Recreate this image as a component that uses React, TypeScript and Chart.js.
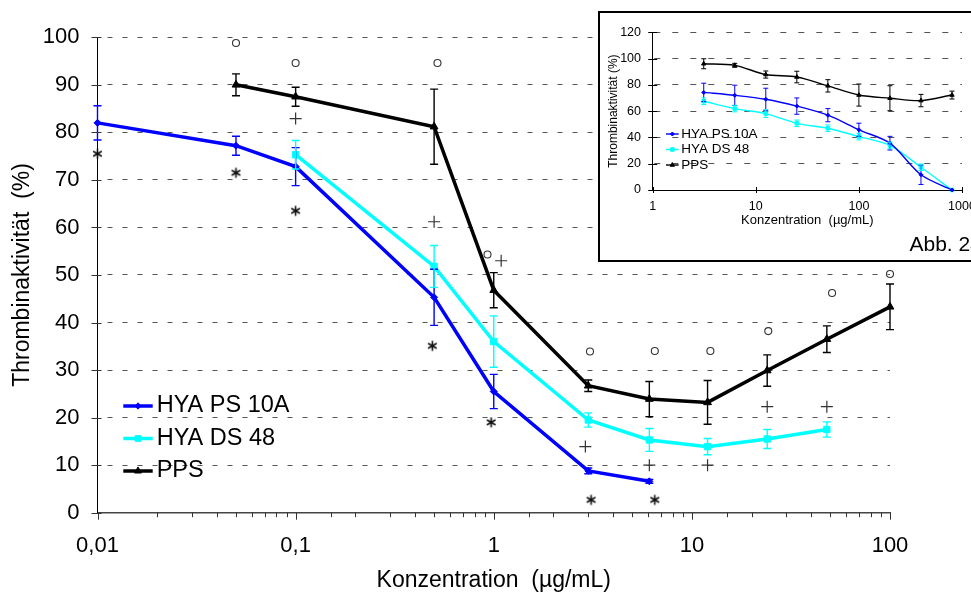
import React, { useEffect, useRef } from 'react';
import { Chart, registerables } from 'chart.js';
import { drawPoint } from 'chart.js/helpers';

Chart.register(...registerables);

const FONT = '"Liberation Sans", Arial, Helvetica, sans-serif';

// ---------- Main chart data ----------
const psConc = [0.01, 0.05, 0.1, 0.5, 1, 3, 6.1];
const psValues = [82, 77.2, 72.8, 45.3, 25.5, 8.8, 6.6];
const psErrors = [3.6, 2, 4, 5.9, 3.6, 0.6, 0.4];

const dsConc = [0.1, 0.5, 1, 3, 6.1, 12, 24, 48];
const dsValues = [75.3, 51.8, 36, 19.5, 15.3, 13.9, 15.5, 17.5];
const dsErrors = [3, 4.4, 5.4, 1.5, 2.4, 1.7, 2, 1.6];

const ppsConc = [0.05, 0.1, 0.5, 1, 3, 6.1, 12, 24, 48, 100];
const ppsValues = [90, 87.5, 81.2, 46.8, 26.7, 23.9, 23.2, 29.9, 36.5, 43.3];
const ppsErrors = [2.3, 2, 7.9, 3.7, 1.2, 3.7, 4.6, 3.3, 2.8, 4.8];

// significance symbols
const starConc = [0.01, 0.05, 0.1, 0.49, 0.97, 3.1, 6.5];
const starValues = [75.5, 71.5, 63.5, 35.1, 19, 2.7, 2.7];
const plusConc = [0.1, 0.5, 1.09, 2.9, 6.1, 12, 24, 48];
const plusValues = [82.9, 61.2, 53, 13.9, 10, 10, 22.3, 22.3];
const circleConc = [0.05, 0.1, 0.52, 0.93, 3.06, 6.5, 12.4, 24.3, 51, 100];
const circleValues = [98.8, 94.6, 94.6, 54.3, 33.9, 34, 34, 38.2, 46.2, 50.2];

const mainXDecades = [0.01, 0.1, 1, 10, 100];
const mainXTickLabels = ['0,01', '0,1', '1', '10', '100'];
const mainXTitle = 'Konzentration  (µg/mL)';
const mainYTitle = 'Thrombinaktivität  (%)';

// ---------- Inset chart data ----------
const insetConc = [3.125, 6.25, 12.5, 25, 50, 100, 200, 400, 800];
const insetPsValues = [74.2, 72, 69, 63.8, 56.9, 45.8, 35.6, 11.6, 0];
const insetPsErrors = [7, 7.7, 8.4, 6.2, 5, 5, 5.2, 7.4, 0];
const insetDsValues = [67.5, 61.9, 58.1, 50.7, 47, 40.6, 33.9, 17.3, 0];
const insetDsErrors = [2.5, 2.5, 3, 2.5, 2.5, 2.5, 2.5, 2.5, 0];
const insetPpsValues = [96, 94.8, 87.8, 85.9, 79.2, 72.2, 69.8, 68, 72.2];
const insetPpsErrors = [3.8, 1.5, 2.7, 4.4, 4.7, 8.4, 9.5, 4.7, 3];

const insetXDecades = [1, 10, 100, 1000];
const insetXTickLabels = ['1', '10', '100', '1000'];
const insetXTitle = 'Konzentration  (µg/mL)';
const insetYTitle = 'Thrombinaktivität (%)';
const insetCaption = 'Abb. 24';

const seriesLabels = ['HYA PS 10A', 'HYA DS 48', 'PPS'];

// ---------- helpers ----------
const isDecade = (v: number) => {
  const l = Math.log10(v);
  return Math.abs(l - Math.round(l)) < 1e-6;
};

const labelFor = (decades: number[], labels: string[]) => (value: any) => {
  const v = Number(value);
  const i = decades.findIndex((d) => Math.abs(v / d - 1) < 1e-6);
  return i >= 0 ? labels[i] : '';
};

const pts = (xs: number[], ys: number[]) => xs.map((x, i) => ({ x, y: ys[i] }));

function makeAsterisk(): HTMLCanvasElement {
  const c = document.createElement('canvas');
  c.width = 13;
  c.height = 13;
  const g = c.getContext('2d')!;
  g.strokeStyle = '#111';
  g.lineWidth = 1.6;
  const r = 5;
  const cx = 6.5;
  const cy = 6.5;
  g.beginPath();
  [90, 30, 150].forEach((a) => {
    const rad = (a * Math.PI) / 180;
    g.moveTo(cx - r * Math.cos(rad), cy - r * Math.sin(rad));
    g.lineTo(cx + r * Math.cos(rad), cy + r * Math.sin(rad));
  });
  g.stroke();
  return c;
}

function makeErrorBarPlugin(width: number, cap: number) {
  return {
    id: 'errorBars',
    afterDatasetsDraw(chart: any) {
      const ctx = chart.ctx;
      const yScale = chart.scales.y;
      chart.data.datasets.forEach((ds: any, i: number) => {
        if (!ds.errors) return;
        const meta = chart.getDatasetMeta(i);
        ctx.save();
        ctx.strokeStyle = ds.borderColor;
        ctx.lineWidth = width;
        meta.data.forEach((pt: any, j: number) => {
          const e = ds.errors[j];
          if (!e) return;
          const v = ds.data[j].y;
          const yt = yScale.getPixelForValue(v + e);
          const yb = yScale.getPixelForValue(v - e);
          const x = pt.x;
          ctx.beginPath();
          ctx.moveTo(x, yt);
          ctx.lineTo(x, yb);
          ctx.moveTo(x - cap, yt);
          ctx.lineTo(x + cap, yt);
          ctx.moveTo(x - cap, yb);
          ctx.lineTo(x + cap, yb);
          ctx.stroke();
        });
        ctx.restore();
      });
    },
  };
}

function makeTickPlugin(cfg: {
  color: string;
  width: number;
  xMajorOut: number;
  xMajorIn: number;
  xMinorOut: number;
  xMinorIn: number;
  yOut: number;
  yIn: number;
}) {
  return {
    id: 'tickMarks',
    afterDraw(chart: any) {
      const ctx = chart.ctx;
      const xs = chart.scales.x;
      const ys = chart.scales.y;
      const ca = chart.chartArea;
      ctx.save();
      ctx.strokeStyle = cfg.color;
      ctx.lineWidth = cfg.width;
      ctx.beginPath();
      xs.ticks.forEach((t: any) => {
        const major = isDecade(t.value);
        const out = major ? cfg.xMajorOut : cfg.xMinorOut;
        const inn = major ? cfg.xMajorIn : cfg.xMinorIn;
        if (!out && !inn) return;
        const px = Math.round(xs.getPixelForValue(t.value)) + 0.5;
        ctx.moveTo(px, ca.bottom - inn);
        ctx.lineTo(px, ca.bottom + out);
      });
      ys.ticks.forEach((t: any) => {
        const py = Math.round(ys.getPixelForValue(t.value)) + 0.5;
        ctx.moveTo(ca.left - cfg.yOut, py);
        ctx.lineTo(ca.left + cfg.yIn, py);
      });
      ctx.stroke();
      ctx.restore();
    },
  };
}

function makeLegendPlugin(cfg: {
  x: number;
  y0: number;
  dy: number;
  lineLen: number;
  gap: number;
  font: string;
  lineWidth: number;
  markerScale: number;
}) {
  return {
    id: 'innerLegend',
    afterDraw(chart: any) {
      const ctx = chart.ctx;
      ctx.save();
      for (let i = 0; i < 3; i++) {
        const ds = chart.data.datasets[i];
        const y = cfg.y0 + i * cfg.dy;
        ctx.strokeStyle = ds.borderColor;
        ctx.lineWidth = cfg.lineWidth;
        ctx.beginPath();
        ctx.moveTo(cfg.x, y);
        ctx.lineTo(cfg.x + cfg.lineLen, y);
        ctx.stroke();
        ctx.fillStyle = ds.backgroundColor;
        ctx.strokeStyle = ds.borderColor;
        ctx.lineWidth = 1;
        drawPoint(
          ctx,
          { pointStyle: ds.pointStyle, radius: ds.pointRadius * cfg.markerScale, rotation: 0, borderWidth: 1 } as any,
          cfg.x + cfg.lineLen / 2,
          y
        );
        ctx.fillStyle = '#000';
        ctx.font = cfg.font;
        ctx.textBaseline = 'middle';
        ctx.textAlign = 'left';
        ctx.fillText(ds.label, cfg.x + cfg.lineLen + cfg.gap, y);
      }
      ctx.restore();
    },
  };
}

function makeCaptionPlugin(text: string, x: number, y: number, font: string) {
  return {
    id: 'caption',
    afterDraw(chart: any) {
      const ctx = chart.ctx;
      ctx.save();
      ctx.font = font;
      ctx.fillStyle = '#000';
      ctx.textAlign = 'left';
      ctx.textBaseline = 'alphabetic';
      ctx.fillText(text, x, y);
      ctx.restore();
    },
  };
}

const gridColor = (c: any) => (c.tick && c.tick.value === 0 ? 'rgba(0,0,0,0)' : '#555');

function buildMainConfig(star: HTMLCanvasElement): any {
  return {
    type: 'line',
    data: {
      datasets: [
        {
          label: seriesLabels[0],
          data: pts(psConc, psValues),
          errors: psErrors,
          borderColor: '#0000FF',
          backgroundColor: '#0000FF',
          borderWidth: 3.5,
          pointStyle: 'rectRot',
          pointRadius: 3.5,
          pointBorderWidth: 1,
          clip: false,
        },
        {
          label: seriesLabels[1],
          data: pts(dsConc, dsValues),
          errors: dsErrors,
          borderColor: '#00FFFF',
          backgroundColor: '#00FFFF',
          borderWidth: 3.5,
          pointStyle: 'rect',
          pointRadius: 4.5,
          pointBorderWidth: 1,
          clip: false,
        },
        {
          label: seriesLabels[2],
          data: pts(ppsConc, ppsValues),
          errors: ppsErrors,
          borderColor: '#000000',
          backgroundColor: '#000000',
          borderWidth: 3.5,
          pointStyle: 'triangle',
          pointRadius: 4.5,
          pointBorderWidth: 1,
          clip: false,
        },
        {
          label: '*',
          data: pts(starConc, starValues),
          showLine: false,
          pointStyle: star,
          pointRadius: 5,
          borderColor: '#222',
          backgroundColor: '#222',
          clip: false,
        },
        {
          label: '+',
          data: pts(plusConc, plusValues),
          showLine: false,
          pointStyle: 'cross',
          pointRadius: 6,
          pointBorderWidth: 1.2,
          borderColor: '#333',
          backgroundColor: '#333',
          clip: false,
        },
        {
          label: 'o',
          data: pts(circleConc, circleValues),
          showLine: false,
          pointStyle: 'circle',
          pointRadius: 3.5,
          pointBorderWidth: 1.1,
          borderColor: '#333',
          backgroundColor: 'rgba(0,0,0,0)',
          clip: false,
        },
      ],
    },
    options: {
      responsive: false,
      animation: false,
      devicePixelRatio: 1,
      layout: { padding: { left: 0, top: 37.3, right: 81, bottom: 0 } },
      plugins: { legend: { display: false }, tooltip: { enabled: false } },
      elements: { line: { tension: 0 } },
      scales: {
        x: {
          type: 'logarithmic',
          min: 0.01,
          max: 100,
          afterFit: (s: any) => {
            s.height = 81.3;
          },
          grid: { display: false, drawTicks: false },
          border: { display: true, color: '#444', width: 1.5 },
          ticks: {
            autoSkip: false,
            maxRotation: 0,
            minRotation: 0,
            padding: 20,
            color: '#000',
            font: { family: FONT, size: 22 },
            callback: labelFor(mainXDecades, mainXTickLabels),
          },
          title: {
            display: true,
            text: mainXTitle,
            color: '#000',
            font: { family: FONT, size: 23 },
            padding: { top: 0, bottom: 0 },
          },
        },
        y: {
          type: 'linear',
          min: 0,
          max: 100,
          afterFit: (s: any) => {
            s.width = 97.5;
          },
          ticks: { stepSize: 10, padding: 18, color: '#000', font: { family: FONT, size: 22 } },
          grid: { color: gridColor, lineWidth: 1, drawTicks: false, borderDash: [5, 10], borderDashOffset: 5.5 },
          border: { display: true, color: '#000', width: 1, dash: [5, 10], dashOffset: 5.5 },
          title: {
            display: true,
            text: mainYTitle,
            color: '#000',
            font: { family: FONT, size: 23 },
            padding: { top: 9, bottom: 0 },
          },
        },
      },
    },
    plugins: [
      makeErrorBarPlugin(1.4, 4),
      makeTickPlugin({ color: '#333', width: 1, xMajorOut: 7, xMajorIn: 0, xMinorOut: 4.5, xMinorIn: 0, yOut: 6, yIn: 4 }),
      makeLegendPlugin({
        x: 123.3,
        y0: 406,
        dy: 32.5,
        lineLen: 29.4,
        gap: 4,
        font: `23.5px ${FONT}`,
        lineWidth: 3.5,
        markerScale: 0.9,
      }),
    ],
  };
}

function buildInsetConfig(): any {
  return {
    type: 'line',
    data: {
      datasets: [
        {
          label: seriesLabels[0],
          data: pts(insetConc, insetPsValues),
          errors: insetPsErrors,
          borderColor: '#0000FF',
          backgroundColor: '#0000FF',
          borderWidth: 1.4,
          pointStyle: 'rectRot',
          pointRadius: 2,
          pointBorderWidth: 1,
          clip: false,
        },
        {
          label: seriesLabels[1],
          data: pts(insetConc, insetDsValues),
          errors: insetDsErrors,
          borderColor: '#00FFFF',
          backgroundColor: '#00FFFF',
          borderWidth: 1.4,
          pointStyle: 'rect',
          pointRadius: 2.5,
          pointBorderWidth: 1,
          clip: false,
        },
        {
          label: seriesLabels[2],
          data: pts(insetConc, insetPpsValues),
          errors: insetPpsErrors,
          borderColor: '#000000',
          backgroundColor: '#000000',
          borderWidth: 1.4,
          pointStyle: 'triangle',
          pointRadius: 2.5,
          pointBorderWidth: 1,
          clip: false,
        },
      ],
    },
    options: {
      responsive: false,
      animation: false,
      devicePixelRatio: 1,
      layout: { padding: { left: 0, top: 15.3, right: 34, bottom: 0 } },
      plugins: { legend: { display: false }, tooltip: { enabled: false } },
      elements: { line: { tension: 0.3 } },
      scales: {
        x: {
          type: 'logarithmic',
          min: 1,
          max: 1000,
          afterFit: (s: any) => {
            s.height = 70;
          },
          grid: { display: false, drawTicks: false },
          border: { display: true, color: '#000', width: 1 },
          ticks: {
            autoSkip: false,
            maxRotation: 0,
            minRotation: 0,
            padding: 9.5,
            color: '#000',
            font: { family: FONT, size: 12.5 },
            callback: labelFor(insetXDecades, insetXTickLabels),
          },
          title: {
            display: true,
            text: insetXTitle,
            color: '#000',
            font: { family: FONT, size: 13 },
            padding: { top: 0, bottom: 31.5 },
          },
        },
        y: {
          type: 'linear',
          min: 0,
          max: 120,
          afterFit: (s: any) => {
            s.width = 52.7;
          },
          ticks: { stepSize: 20, padding: 11.7, color: '#000', font: { family: FONT, size: 12.5 } },
          grid: { color: gridColor, lineWidth: 1, drawTicks: false, borderDash: [6, 12], borderDashOffset: 16.7 },
          border: { display: true, color: '#000', width: 1, dash: [6, 12], dashOffset: 16.7 },
          title: {
            display: true,
            text: insetYTitle,
            color: '#000',
            font: { family: FONT, size: 12 },
            padding: { top: 6, bottom: 0 },
          },
        },
      },
    },
    plugins: [
      makeErrorBarPlugin(1, 2.5),
      makeTickPlugin({ color: '#000', width: 1, xMajorOut: 3, xMajorIn: 3, xMinorOut: 0, xMinorIn: 0, yOut: 4.5, yIn: 4.5 }),
      makeLegendPlugin({
        x: 66,
        y0: 121,
        dy: 15.5,
        lineLen: 12.7,
        gap: 2.5,
        font: `13.5px ${FONT}`,
        lineWidth: 1.4,
        markerScale: 1,
      }),
      makeCaptionPlugin(insetCaption, 309.5, 237.5, `21px ${FONT}`),
    ],
  };
}

export default function App() {
  const mainRef = useRef<HTMLCanvasElement>(null);
  const insetRef = useRef<HTMLCanvasElement>(null);

  useEffect(() => {
    const star = makeAsterisk();
    const main = new Chart(mainRef.current as HTMLCanvasElement, buildMainConfig(star));
    const inset = new Chart(insetRef.current as HTMLCanvasElement, buildInsetConfig());
    return () => {
      main.destroy();
      inset.destroy();
    };
  }, []);

  return (
    <div
      style={{
        position: 'fixed',
        left: 0,
        top: 0,
        width: 971,
        height: 594,
        overflow: 'hidden',
        background: '#fff',
      }}
    >
      <canvas
        ref={mainRef}
        width={971}
        height={594}
        style={{ position: 'absolute', left: 0, top: 0, width: 971, height: 594 }}
      />
      <div
        style={{
          position: 'absolute',
          left: 598,
          top: 11,
          width: 396,
          height: 247,
          border: '2px solid #000',
          background: '#fff',
        }}
      >
        <canvas ref={insetRef} width={396} height={247} style={{ display: 'block', width: 396, height: 247 }} />
      </div>
    </div>
  );
}
